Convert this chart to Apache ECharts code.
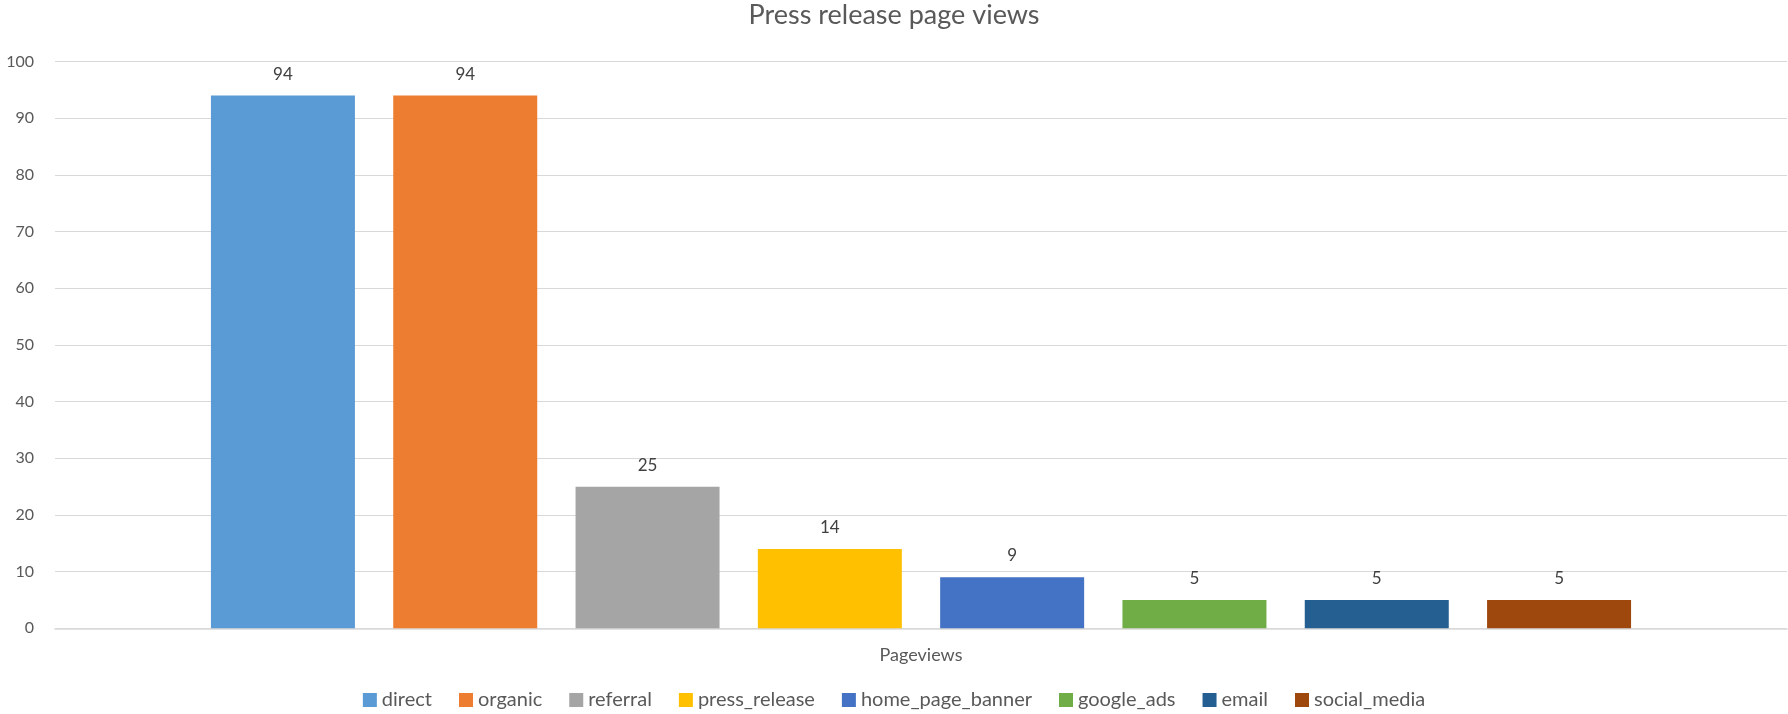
<!DOCTYPE html>
<html>
<head>
<meta charset="utf-8">
<title>Press release page views</title>
<script src="https://cdn.jsdelivr.net/npm/echarts@6/dist/echarts.min.js"></script>
<style>
  html, body { margin: 0; padding: 0; background: #fff; }
  #chart { width: 1788px; height: 714px; }
</style>
</head>
<body>
<div id="chart"></div>
<script>
  var categories = ['Pageviews'];
  var sources = ['direct', 'organic', 'referral', 'press_release', 'home_page_banner', 'google_ads', 'email', 'social_media'];
  var views = [94, 94, 25, 14, 9, 5, 5, 5];
  var yTicks = [0, 10, 20, 30, 40, 50, 60, 70, 80, 90, 100];

  var palette = ['#5B9BD5', '#ED7D31', '#A5A5A5', '#FFC000', '#4472C4', '#70AD47', '#255E91', '#9E480E'];
  var font = 'Lato, "Open Sans", sans-serif';

  var series = sources.map(function (name, i) {
    return {
      name: name,
      type: 'bar',
      data: [views[i]],
      barWidth: 144,
      barGap: '26.6%',
      itemStyle: { color: palette[i] },
      label: {
        show: true,
        position: 'top',
        distance: 13,
        color: '#404040',
        fontFamily: font,
        fontSize: 17
      }
    };
  });

  var chart = echarts.init(document.getElementById('chart'));
  chart.setOption({
    animation: false,
    title: {
      text: 'Press release page views',
      left: 'center',
      top: 2,
      padding: 0,
      textStyle: { fontFamily: font, fontSize: 27, fontWeight: 'normal', color: '#595959' }
    },
    legend: {
      data: sources,
      top: 690,
      left: 'center',
      padding: 0,
      itemWidth: 14,
      itemHeight: 14,
      itemGap: 27,
      icon: 'rect',
      textStyle: { fontFamily: font, fontSize: 20, color: '#595959' }
    },
    grid: { left: 55, right: 1, top: 61.6, bottom: 85.7, containLabel: false },
    xAxis: {
      type: 'category',
      data: categories,
      axisTick: { show: false },
      axisLine: { lineStyle: { color: '#d9d9d9', width: 1.5 } },
      axisLabel: { margin: 18, color: '#595959', fontFamily: font, fontSize: 18 }
    },
    yAxis: {
      type: 'value',
      min: yTicks[0],
      max: yTicks[yTicks.length - 1],
      interval: 10,
      axisLine: { show: false },
      axisTick: { show: false },
      axisLabel: { margin: 21, color: '#595959', fontFamily: font, fontSize: 16 },
      splitLine: { lineStyle: { color: '#d9d9d9', width: 1 } }
    },
    series: series
  });
</script>
</body>
</html>
